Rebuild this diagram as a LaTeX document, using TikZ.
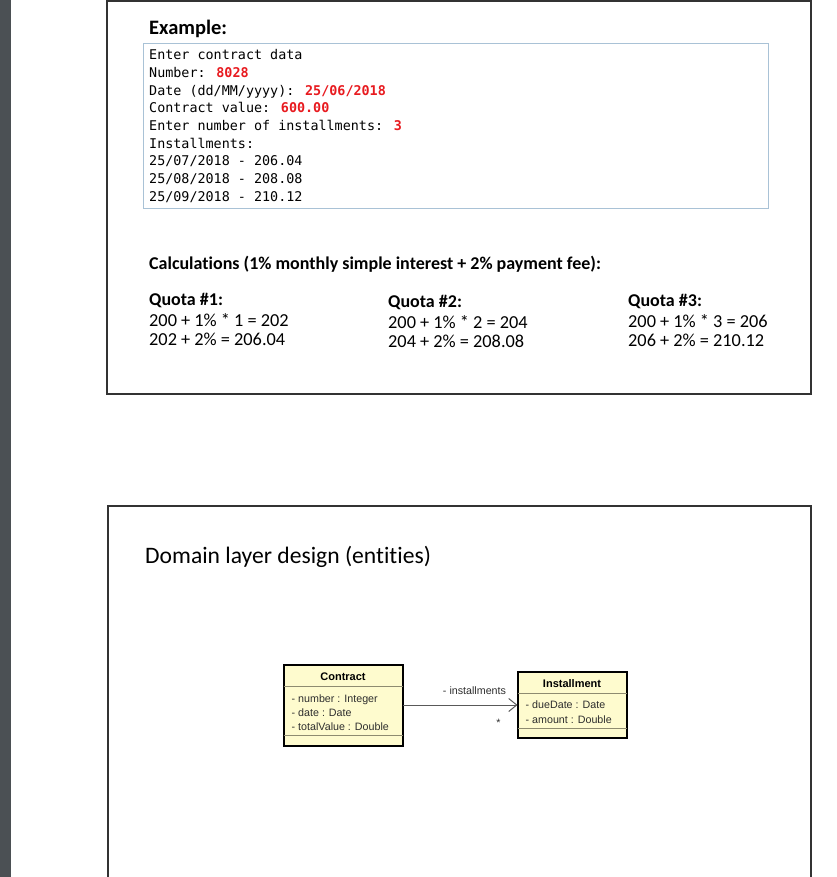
\documentclass[tikz,border=0pt]{standalone}
\usepackage{fontspec}
\setmainfont[Ligatures=NoCommon]{Carlito}
\newfontfamily\consolefont{DejaVu Sans Mono}
\newfontfamily\umlfont{Liberation Sans}
\usepackage{tikz}
\usetikzlibrary{arrows.meta,positioning}

\definecolor{viewergray}{HTML}{4B5054}
\definecolor{consoleblue}{HTML}{A9C2D6}
\definecolor{inputred}{HTML}{E81A1F}
\definecolor{classfill}{HTML}{FEFBCE}
\definecolor{classline}{HTML}{8E8B70}
\definecolor{umltext}{HTML}{2E2E2E}

\newcommand{\typed}[1]{\textcolor{inputred}{\bfseries #1}}

\tikzset{
  slide/.style={draw=black!80, line width=1.4pt},
  heading/.style={anchor=base west, inner sep=0pt, font=\bfseries\fontsize{20.5}{24}\selectfont},
  console/.style={anchor=base west, inner sep=0pt, font=\consolefont\fontsize{13.4}{16}\selectfont},
  calchead/.style={anchor=base west, inner sep=0pt, font=\bfseries\fontsize{18}{21}\selectfont},
  calcline/.style={anchor=base west, inner sep=0pt, font=\fontsize{18.3}{21}\selectfont},
  umlclass/.style={draw=black, line width=2pt, fill=classfill, inner sep=0pt, outer sep=0pt},
  umlsep/.style={draw=classline, line width=1.8pt},
  umltitle/.style={anchor=base, inner sep=0pt, text=black, font=\umlfont\bfseries\fontsize{11}{13}\selectfont},
  umlattr/.style={anchor=base west, inner sep=0pt, text=umltext, font=\umlfont\fontsize{10.7}{12}\selectfont},
  assoc/.style={draw=black!65, line width=1pt, -{Straight Barb[length=8pt,width=13pt]}},
}

\begin{document}
\begin{tikzpicture}[x=1pt,y=-1pt]
  \useasboundingbox (0,0) rectangle (836,877);
  \fill[white] (0,0) rectangle (836,877);
  \fill[viewergray] (0,0) rectangle (11,877);

  % first slide: console example
  \draw[slide] (107,1) rectangle (811,394);
  \node[heading] (example) at (149,35) {Example:};
  \node[draw=consoleblue, line width=0.9pt, anchor=north west, minimum width=625pt,
        minimum height=165pt, inner sep=0pt] (consolebox) at (143,43) {};
  \foreach \row [count=\i from 0] in {{Enter contract data}, {Number: \typed{8028}},
      {Date (dd/MM/yyyy): \typed{25/06/2018}}, {Contract value: \typed{600.00}},
      {Enter number of installments: \typed{3}}, {Installments:},
      {25/07/2018 - 206.04}, {25/08/2018 - 208.08}, {25/09/2018 - 210.12}}
    \node[console] (console\i) at (149,60+17.65*\i) {\row};

  \node[calchead] (calc) at (149,269) {Calculations (1\% monthly simple interest + 2\% payment fee):};
  \foreach \x/\y/\n/\a/\c in {149/305/1/202/206.04, 388/307/2/204/208.08, 628/306/3/206/210.12} {
    \node[calchead] (quota\n) at (\x,\y) {Quota \#\n:};
    \node[calcline] (interest\n) at (\x,\y+21) {200 + 1\% * \n\ = \a};
    \node[calcline] (fee\n) at (\x,\y+40) {\a\ + 2\% = \c};
  }

  % second slide: domain entities
  \draw[slide] (108,880) -- (108,506) -- (811,506) -- (811,880);
  \node[anchor=base west, inner sep=0pt, font=\fontsize{23.6}{28}\selectfont] (domaintitle)
    at (145,563) {Domain layer design (entities)};

  \node[umlclass, minimum width=119pt, minimum height=81pt] (contract) at (343,705) {};
  \draw[umlsep] ([yshift=-22pt]contract.north west) -- ([yshift=-22pt]contract.north east);
  \draw[umlsep] ([yshift=10pt]contract.south west) -- ([yshift=10pt]contract.south east);
  \node[umltitle] (contracttitle) at ([yshift=-16pt]contract.north) {Contract};
  \foreach \attr [count=\i] in {{- number : Integer}, {- date : Date}, {- totalValue : Double}}
    \node[umlattr] (contractattr\i) at ([xshift=8pt, yshift={-24pt-14pt*\i}]contract.north west) {\attr};

  \node[umlclass, minimum width=109pt, minimum height=66pt] (installment) at (572,704.5) {};
  \draw[umlsep] ([yshift=-22pt]installment.north west) -- ([yshift=-22pt]installment.north east);
  \draw[umlsep] ([yshift=9pt]installment.south west) -- ([yshift=9pt]installment.south east);
  \node[umltitle] (installmenttitle) at ([yshift=-16pt]installment.north) {Installment};
  \foreach \attr [count=\i] in {{- dueDate : Date}, {- amount : Double}}
    \node[umlattr] (installmentattr\i) at ([xshift=8pt, yshift={-22pt-15pt*\i}]installment.north west) {\attr};

  \draw[assoc] (contract.east) -- (contract.east -| installment.west)
    node[umlattr, pos=1, anchor=base east, xshift=-11pt, yshift=11pt] (role) {- installments}
    node[umlattr, pos=1, anchor=base, xshift=-19pt, yshift=-21pt] (mult) {*};
\end{tikzpicture}
\end{document}
